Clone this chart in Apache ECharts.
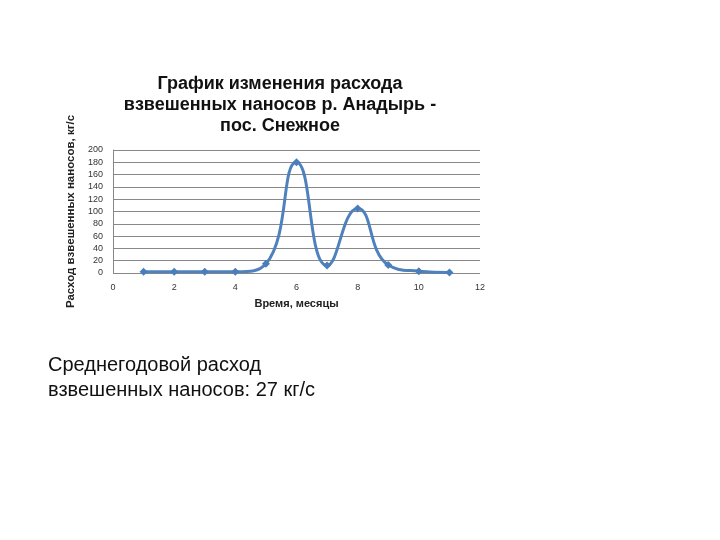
<!DOCTYPE html>
<html>
<head>
<meta charset="utf-8">
<script src="https://cdn.jsdelivr.net/npm/echarts@6/dist/echarts.min.js"></script>
<style>
  html, body { margin: 0; padding: 0; background: #fff; }
  #chart { width: 720px; height: 540px; }
</style>
</head>
<body>
<div id="chart"></div>
<script>
// месяцы и расход взвешенных наносов, кг/с
const months = [1, 2, 3, 4, 5, 6, 7, 8, 9, 10, 11]
const discharge = [2, 2, 2, 2, 15, 180, 12, 105, 13, 3, 1]

const titleLines = ['График изменения расхода', 'взвешенных наносов р. Анадырь -', 'пос. Снежное']
const noteLines = ['Среднегодовой расход', 'взвешенных наносов: 27 кг/с']

const chart = echarts.init(document.getElementById('chart'))

const font = '"Liberation Sans", Arial, sans-serif'

chart.setOption({
  animation: false,
  textStyle: { fontFamily: font },
  grid: { left: 113, right: 240, top: 150, bottom: 267 },
  xAxis: {
    type: 'value',
    min: 0,
    max: 12,
    interval: 2,
    name: 'Время, месяцы',
    nameLocation: 'middle',
    nameGap: 25,
    nameTextStyle: { fontSize: 11, fontWeight: 'bold', color: '#222' },
    axisLine: { show: false },
    axisTick: { show: false },
    splitLine: { show: false },
    axisLabel: { fontSize: 9, color: '#333', margin: 10 }
  },
  yAxis: {
    type: 'value',
    min: 0,
    max: 200,
    interval: 20,
    name: 'Расход взвешенных наносов, кг/с',
    nameLocation: 'middle',
    nameRotate: 90,
    nameGap: 31,
    nameTextStyle: { fontSize: 11.5, fontWeight: 'bold', color: '#222' },
    axisLine: { show: true, lineStyle: { color: '#888' } },
    axisTick: { show: false },
    splitLine: { lineStyle: { color: '#888', width: 1 } },
    axisLabel: { fontSize: 9, color: '#333', margin: 10 }
  },
  series: [{
    type: 'line',
    data: months.map((m, i) => [m, discharge[i]]),
    smooth: 0.5,
    symbol: 'diamond',
    symbolSize: 8,
    lineStyle: { color: '#4f81bd', width: 3 },
    itemStyle: { color: '#4a7ebb' }
  }],
  graphic: [
    {
      type: 'text',
      x: 280,
      y: 74,
      style: {
        text: titleLines.join('\n'),
        align: 'center',
        font: 'bold 18px ' + font,
        lineHeight: 21,
        fill: '#111'
      }
    },
    {
      type: 'text',
      x: 48,
      y: 353,
      style: {
        text: noteLines.join('\n'),
        font: '20px ' + font,
        lineHeight: 25,
        fill: '#111'
      }
    }
  ]
})
</script>
</body>
</html>
